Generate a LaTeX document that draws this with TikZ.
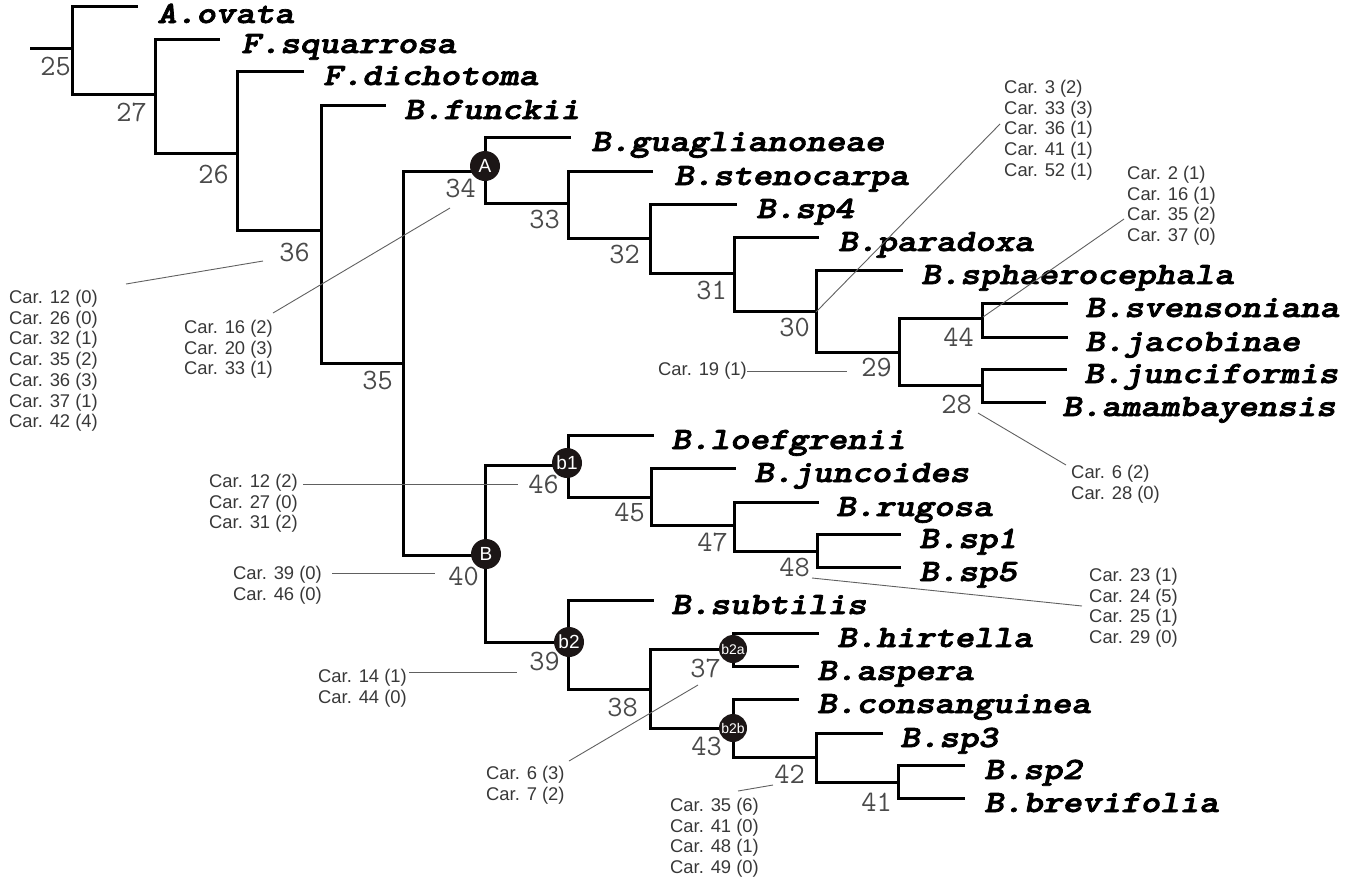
\documentclass[tikz,border=0pt]{standalone}
\usepackage{fontspec}
\usepackage{graphicx}
\newfontfamily\carfont{Liberation Sans}
\newcommand\taxtext[1]{\special{pdf:literal direct 2 Tr 0.7 w}\scalebox{1.2}[1]{#1}\special{pdf:literal direct 0 Tr}}
\definecolor{numgray}{HTML}{4A4A4A}
\definecolor{cargray}{HTML}{383838}
\definecolor{anngray}{HTML}{606060}
\definecolor{circfill}{HTML}{1C1616}
\begin{document}
\begin{tikzpicture}[x=1pt,y=-1pt,
  br/.style={line width=3pt, line join=miter, line cap=rect},
  ann/.style={draw=anngray, line width=0.9pt},
  taxon/.style={font=\ttfamily\bfseries\slshape\fontsize{31}{31}\selectfont, anchor=base west, inner sep=0pt},
  num/.style={font=\ttfamily\fontsize{29.5}{29.5}\selectfont, text=numgray, anchor=east, inner sep=0pt},
  car/.style={font=\carfont\fontsize{18.4}{20.7}\selectfont, text=cargray, align=left, anchor=north west, inner sep=0pt},
  circ/.style={circle, fill=circfill, minimum size=30pt, inner sep=0pt, text=white, font=\carfont\fontsize{19}{19}\selectfont},
  circS/.style={circle, fill=circfill, minimum size=28pt, inner sep=0pt, text=white, font=\carfont\fontsize{14}{14}\selectfont}]
\useasboundingbox (0,0) rectangle (1348,879);

% internal node coordinates (x, y of incoming branch)
\coordinate (root) at (31,48);
\coordinate (n25) at (72,48);
\coordinate (n27) at (155,94);
\coordinate (n26) at (237,153);
\coordinate (n36) at (321,230);
\coordinate (n35) at (403,363);
\coordinate (n34) at (485,171);
\coordinate (n33) at (568,203);
\coordinate (n32) at (650,238);
\coordinate (n31) at (734,273);
\coordinate (n30) at (816,311);
\coordinate (n29) at (899,352);
\coordinate (n44) at (982,318);
\coordinate (n28) at (982,385);
\coordinate (n40) at (485,555);
\coordinate (n46) at (568,465);
\coordinate (n45) at (651,497);
\coordinate (n47) at (734,525);
\coordinate (n48) at (817,551);
\coordinate (n39) at (568,642);
\coordinate (n38) at (650,689);
\coordinate (n37) at (733,649);
\coordinate (n43) at (733,728);
\coordinate (n42) at (816,757);
\coordinate (n41) at (898,782);
% tips
\coordinate (tAov) at (136,6);
\coordinate (tFsq) at (218,39);
\coordinate (tFdi) at (302,71);
\coordinate (tBfu) at (384,105);
\coordinate (tBgu) at (569,137);
\coordinate (tBst) at (651,171);
\coordinate (tBsp4) at (735,204);
\coordinate (tBpa) at (817,237);
\coordinate (tBsph) at (901,270);
\coordinate (tBsv) at (1066,303);
\coordinate (tBja) at (1066,337);
\coordinate (tBjun) at (1065,369);
\coordinate (tBam) at (1044,402);
\coordinate (tBlo) at (652,435);
\coordinate (tBjc) at (734,468);
\coordinate (tBru) at (817,502);
\coordinate (tBsp1) at (899,534);
\coordinate (tBsp5) at (899,567);
\coordinate (tBsu) at (652,600);
\coordinate (tBhi) at (817,633);
\coordinate (tBas) at (797,666);
\coordinate (tBco) at (797,699);
\coordinate (tBsp3) at (881,733);
\coordinate (tBsp2) at (963,765);
\coordinate (tBbr) at (963,798);

% branches
\draw[br] (root) -- (n25);
\draw[br] (tAov) -| (n25) |- (n27);
\draw[br] (tFsq) -| (n27) |- (n26);
\draw[br] (tFdi) -| (n26) |- (n36);
\draw[br] (tBfu) -| (n36) |- (n35);
\draw[br] (n34) -| (n35) |- (n40);
\draw[br] (tBgu) -| (n34) |- (n33);
\draw[br] (tBst) -| (n33) |- (n32);
\draw[br] (tBsp4) -| (n32) |- (n31);
\draw[br] (tBpa) -| (n31) |- (n30);
\draw[br] (tBsph) -| (n30) |- (n29);
\draw[br] (n44) -| (n29) |- (n28);
\draw[br] (tBsv) -| (n44) |- (tBja);
\draw[br] (tBjun) -| (n28) |- (tBam);
\draw[br] (n46) -| (n40) |- (n39);
\draw[br] (tBlo) -| (n46) |- (n45);
\draw[br] (tBjc) -| (n45) |- (n47);
\draw[br] (tBru) -| (n47) |- (n48);
\draw[br] (tBsp1) -| (n48) |- (tBsp5);
\draw[br] (tBsu) -| (n39) |- (n38);
\draw[br] (n37) -| (n38) |- (n43);
\draw[br] (tBhi) -| (n37) |- (tBas);
\draw[br] (tBco) -| (n43) |- (n42);
\draw[br] (tBsp3) -| (n42) |- (n41);
\draw[br] (tBsp2) -| (n41) |- (tBbr);

% clade circles
\node[circ] (cA) at (485,166) {A};
\node[circ] (cB) at (486,554) {B};
\node[circ] (cb1) at (567,463) {b1};
\node[circ] (cb2) at (569,642) {b2};
\node[circS] (cb2a) at (733,649) {b2a};
\node[circS] (cb2b) at (733,728) {b2b};

% taxon labels
\node[taxon] (lAov) at (157,23) {\taxtext{A.ovata}};
\node[taxon] (lFsq) at (241,53) {\taxtext{F.squarrosa}};
\node[taxon] (lFdi) at (323,85) {\taxtext{F.dichotoma}};
\node[taxon] (lBfu) at (404,119) {\taxtext{B.funckii}};
\node[taxon] (lBgu) at (591,151) {\taxtext{B.guaglianoneae}};
\node[taxon] (lBst) at (674,185) {\taxtext{B.stenocarpa}};
\node[taxon] (lBsp4) at (756,218) {\taxtext{B.sp4}};
\node[taxon] (lBpa) at (838,251) {\taxtext{B.paradoxa}};
\node[taxon] (lBsph) at (921,284) {\taxtext{B.sphaerocephala}};
\node[taxon] (lBsv) at (1085,317) {\taxtext{B.svensoniana}};
\node[taxon] (lBja) at (1085,351) {\taxtext{B.jacobinae}};
\node[taxon] (lBjun) at (1084,383) {\taxtext{B.junciformis}};
\node[taxon] (lBam) at (1062,416) {\taxtext{B.amambayensis}};
\node[taxon] (lBlo) at (671,449) {\taxtext{B.loefgrenii}};
\node[taxon] (lBjc) at (754,482) {\taxtext{B.juncoides}};
\node[taxon] (lBru) at (836,516) {\taxtext{B.rugosa}};
\node[taxon] (lBsp1) at (919,548) {\taxtext{B.sp1}};
\node[taxon] (lBsp5) at (919,581) {\taxtext{B.sp5}};
\node[taxon] (lBsu) at (671,614) {\taxtext{B.subtilis}};
\node[taxon] (lBhi) at (837,647) {\taxtext{B.hirtella}};
\node[taxon] (lBas) at (817,680) {\taxtext{B.aspera}};
\node[taxon] (lBco) at (817,713) {\taxtext{B.consanguinea}};
\node[taxon] (lBsp3) at (900,747) {\taxtext{B.sp3}};
\node[taxon] (lBsp2) at (984,779) {\taxtext{B.sp2}};
\node[taxon] (lBbr) at (984,812) {\taxtext{B.brevifolia}};

% node numbers
\node[num] (k25) at (71,66) {25};
\node[num] (k27) at (147,112) {27};
\node[num] (k26) at (229,174) {26};
\node[num] (k36) at (310,252) {36};
\node[num] (k35) at (393,380) {35};
\node[num] (k34) at (476,188) {34};
\node[num] (k33) at (560,219) {33};
\node[num] (k32) at (640,254) {32};
\node[num] (k31) at (727,290) {31};
\node[num] (k30) at (810,327) {30};
\node[num] (k29) at (892,367) {29};
\node[num] (k44) at (974,337) {44};
\node[num] (k28) at (972,404) {28};
\node[num] (k46) at (559,484) {46};
\node[num] (k40) at (479,576) {40};
\node[num] (k45) at (645,512) {45};
\node[num] (k47) at (728,542) {47};
\node[num] (k48) at (810,567) {48};
\node[num] (k39) at (560,661) {39};
\node[num] (k38) at (638,707) {38};
\node[num] (k37) at (721,668) {37};
\node[num] (k43) at (722,746) {43};
\node[num] (k42) at (805,774) {42};
\node[num] (k41) at (892,802) {41};

% character blocks
\node[car] (c36) at (9,290) {Car. 12 (0)\\Car. 26 (0)\\Car. 32 (1)\\Car. 35 (2)\\Car. 36 (3)\\Car. 37 (1)\\Car. 42 (4)};
\node[car] (c34) at (184,320) {Car. 16 (2)\\Car. 20 (3)\\Car. 33 (1)};
\node[car] (c30) at (1004,80) {Car. 3 (2)\\Car. 33 (3)\\Car. 36 (1)\\Car. 41 (1)\\Car. 52 (1)};
\node[car] (c44) at (1127,166) {Car. 2 (1)\\Car. 16 (1)\\Car. 35 (2)\\Car. 37 (0)};
\node[car] (c29) at (658,362) {Car. 19 (1)};
\node[car] (c28) at (1071,465) {Car. 6 (2)\\Car. 28 (0)};
\node[car] (c46) at (209,474) {Car. 12 (2)\\Car. 27 (0)\\Car. 31 (2)};
\node[car] (c40) at (233,566) {Car. 39 (0)\\Car. 46 (0)};
\node[car] (c48) at (1089,568) {Car. 23 (1)\\Car. 24 (5)\\Car. 25 (1)\\Car. 29 (0)};
\node[car] (c39) at (318,669) {Car. 14 (1)\\Car. 44 (0)};
\node[car] (c37) at (486,766) {Car. 6 (3)\\Car. 7 (2)};
\node[car] (c42) at (670,798) {Car. 35 (6)\\Car. 41 (0)\\Car. 48 (1)\\Car. 49 (0)};

% annotation leader ends
\coordinate (a36s) at (126,284); \coordinate (a36e) at (263,261);
\coordinate (a34s) at (273,313); \coordinate (a34e) at (450,208);
\coordinate (a30s) at (816,312); \coordinate (a30e) at (1000,124);
\coordinate (a44s) at (983,317); \coordinate (a44e) at (1124,219);
\coordinate (a29s) at (747,371); \coordinate (a29e) at (847,371);
\coordinate (a28s) at (978,413); \coordinate (a28e) at (1066,465);
\coordinate (a46s) at (303,484); \coordinate (a46e) at (518,484);
\coordinate (a40s) at (332,573); \coordinate (a40e) at (435,573);
\coordinate (a48s) at (812,578); \coordinate (a48e) at (1082,606);
\coordinate (a39s) at (409,672); \coordinate (a39e) at (517,672);
\coordinate (a37s) at (698,685); \coordinate (a37e) at (569,761);
\coordinate (a42s) at (738,791); \coordinate (a42e) at (773,785);
\draw[ann] (a36s) -- (a36e);
\draw[ann] (a34s) -- (a34e);
\draw[ann] (a30s) -- (a30e);
\draw[ann] (a44s) -- (a44e);
\draw[ann] (a29s) -- (a29e);
\draw[ann] (a28s) -- (a28e);
\draw[ann] (a46s) -- (a46e);
\draw[ann] (a40s) -- (a40e);
\draw[ann] (a48s) -- (a48e);
\draw[ann] (a39s) -- (a39e);
\draw[ann] (a37s) -- (a37e);
\draw[ann] (a42s) -- (a42e);
\end{tikzpicture}
\end{document}
